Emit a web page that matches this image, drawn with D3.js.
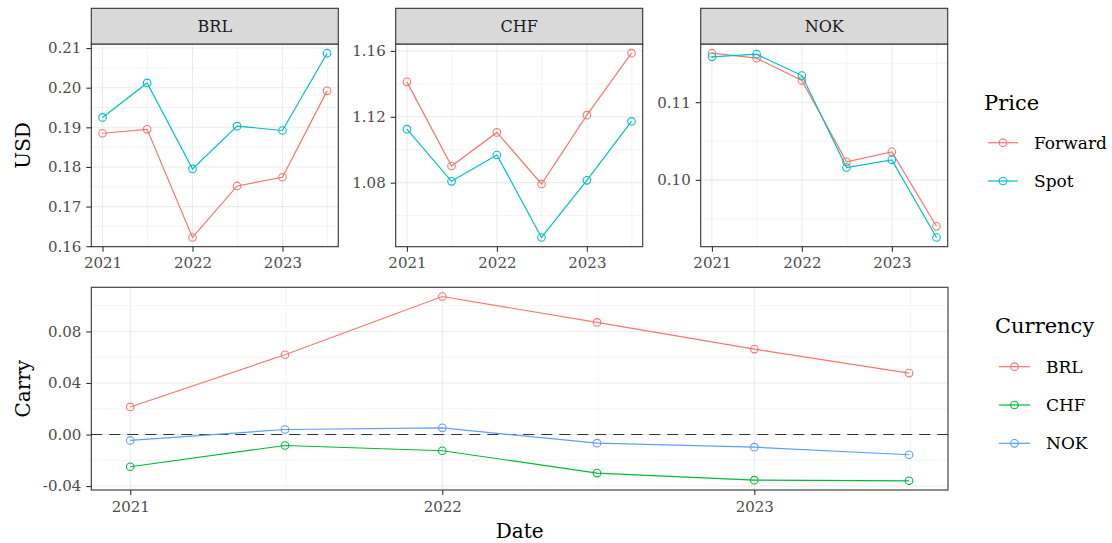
<!DOCTYPE html>
<html><head><meta charset="utf-8">
<script src="https://cdn.jsdelivr.net/npm/d3@7"></script>
<style>body{margin:0;background:#fff} svg{display:block} text{font-family:"DejaVu Serif",serif}</style>
</head><body><svg id="c" width="1112" height="543"></svg>
<script>
// ---------- data ----------
const dates = ["2021-01-01","2021-07-01","2022-01-01","2022-07-01","2023-01-01","2023-07-01"];
const yearTicks = ["2021-01-01","2022-01-01","2023-01-01"];
const yearLabels = ["2021","2022","2023"];
const currencies = ["BRL","CHF","NOK"];
const priceTypes = ["Forward","Spot"];

const brlForward = [0.1885,0.1895,0.1622,0.1752,0.1774,0.1992];
const brlSpot    = [0.1925,0.2012,0.1795,0.1903,0.1892,0.2087];
const chfForward = [1.1412,1.0901,1.1105,1.0792,1.1210,1.1586];
const chfSpot    = [1.1125,1.0808,1.0968,1.0467,1.0814,1.1172];
const nokForward = [0.11631,0.11567,0.11279,0.10232,0.10361,0.09403];
const nokSpot    = [0.11584,0.11618,0.11343,0.10159,0.10258,0.09258];

const brlCarry = [0.0214,0.0619,0.1071,0.0870,0.0663,0.0477];
const chfCarry = [-0.0250,-0.0085,-0.0126,-0.0299,-0.0354,-0.0359];
const nokCarry = [-0.0046,0.0039,0.0052,-0.0067,-0.0098,-0.0157];

const brlTicks = [0.16,0.17,0.18,0.19,0.20,0.21];
const brlTickLabels = ["0.16","0.17","0.18","0.19","0.20","0.21"];
const chfTicks = [1.08,1.12,1.16];
const chfTickLabels = ["1.08","1.12","1.16"];
const nokTicks = [0.10,0.11];
const nokTickLabels = ["0.10","0.11"];
const carryTicks = [-0.04,0,0.04,0.08];
const carryTickLabels = ["-0.04","0.00","0.04","0.08"];

const priceColors = ["#F8766D","#00BFC4"];
const currencyColors = ["#F8766D","#00BA38","#619CFF"];

// ---------- drawing ----------
const parse = d3.timeParse("%Y-%m-%d");
const xDates = dates.map(parse);
const svg = d3.select("#c");

function expand(ext, f){ const r = ext[1]-ext[0]; return [ext[0]-r*f, ext[1]+r*f]; }
function xExp(){
  const e = d3.extent(xDates).map(d=>+d);
  return expand(e,0.05).map(v=>new Date(v));
}

function panel(opt){
  const {left,top,width,height,series,colors,yTicks,yLabels,hline} = opt;
  const g = svg.append("g");
  const x = d3.scaleTime().domain(xExp()).range([left,left+width]);
  const all = series.flat();
  const y = d3.scaleLinear().domain(expand(d3.extent(all),0.05)).range([top+height,top]);
  // minor grid
  const step = yTicks[1]-yTicks[0];
  const yMinor = [];
  for(let i=-1;i<yTicks.length;i++){
    const v = yTicks[0]+step*(i+0.5);
    if(v>=y.domain()[0] && v<=y.domain()[1]) yMinor.push(v);
  }
  const xMinor = [];
  const tv = yearTicks.map(parse);
  for(let i=0;i<tv.length;i++){
    const v = new Date(+tv[i] + (i<tv.length-1 ? (tv[i+1]-tv[i])/2 : (tv[1]-tv[0])/2));
    if(v>=x.domain()[0] && v<=x.domain()[1]) xMinor.push(v);
  }
  g.selectAll(".ym").data(yMinor).join("line").attr("x1",left).attr("x2",left+width)
    .attr("y1",d=>y(d)).attr("y2",d=>y(d)).attr("stroke","#EBEBEB").attr("stroke-width",0.6);
  g.selectAll(".xm").data(xMinor).join("line").attr("y1",top).attr("y2",top+height)
    .attr("x1",d=>x(d)).attr("x2",d=>x(d)).attr("stroke","#EBEBEB").attr("stroke-width",0.6);
  g.selectAll(".yM").data(yTicks).join("line").attr("x1",left).attr("x2",left+width)
    .attr("y1",d=>y(d)).attr("y2",d=>y(d)).attr("stroke","#EBEBEB").attr("stroke-width",1.1);
  g.selectAll(".xM").data(tv).join("line").attr("y1",top).attr("y2",top+height)
    .attr("x1",d=>x(d)).attr("x2",d=>x(d)).attr("stroke","#EBEBEB").attr("stroke-width",1.1);
  if(hline!==undefined){
    g.append("line").attr("x1",left).attr("x2",left+width).attr("y1",y(hline)).attr("y2",y(hline))
      .attr("stroke","#333").attr("stroke-width",1.2).attr("stroke-dasharray","11,7");
  }
  const line = d3.line().x((d,i)=>x(xDates[i])).y(d=>y(d));
  series.forEach((s,k)=>{
    g.append("path").attr("d",line(s)).attr("fill","none").attr("stroke",colors[k]).attr("stroke-width",1.2);
    g.selectAll(null).data(s).join("circle").attr("cx",(d,i)=>x(xDates[i])).attr("cy",d=>y(d))
      .attr("r",3.8).attr("fill","none").attr("stroke",colors[k]).attr("stroke-width",1.1);
  });
  // border
  g.append("rect").attr("x",left).attr("y",top).attr("width",width).attr("height",height)
    .attr("fill","none").attr("stroke","#333").attr("stroke-width",1.1);
  // axes
  const ya = d3.axisLeft(y).tickValues(yTicks).tickFormat((d,i)=>yLabels[i]).tickSize(5).tickPadding(5);
  const yg = svg.append("g").attr("transform",`translate(${left},0)`).call(ya);
  const xa = d3.axisBottom(x).tickValues(tv).tickFormat((d,i)=>yearLabels[i]).tickSize(5).tickPadding(6);
  const xg = svg.append("g").attr("transform",`translate(0,${top+height})`).call(xa);
  [yg,xg].forEach(a=>{
    a.select(".domain").remove();
    a.selectAll(".tick line").attr("stroke","#333").attr("stroke-width",1.1);
    a.selectAll(".tick text").attr("fill","#4D4D4D").style("font-size","15px").style("font-family","DejaVu Serif");
  });
  return g;
}

const topTop = 44, topH = 202.7, stripTop = 8.3;
const lefts = [91.3,395.7,700.7], pw = 247;
const priceSeries = [[brlForward,brlSpot],[chfForward,chfSpot],[nokForward,nokSpot]];
const yT = [brlTicks,chfTicks,nokTicks], yL = [brlTickLabels,chfTickLabels,nokTickLabels];
currencies.forEach((c,i)=>{
  panel({left:lefts[i],top:topTop,width:pw,height:topH,series:priceSeries[i],colors:priceColors,yTicks:yT[i],yLabels:yL[i]});
  svg.append("rect").attr("x",lefts[i]).attr("y",stripTop).attr("width",pw).attr("height",topTop-stripTop)
    .attr("fill","#D9D9D9").attr("stroke","#333").attr("stroke-width",1.1);
  svg.append("text").attr("x",lefts[i]+pw/2).attr("y",(stripTop+topTop)/2).attr("dy","0.36em")
    .attr("text-anchor","middle").attr("fill","#1A1A1A").style("font-size","16px").text(c);
});

panel({left:91.3,top:287.3,width:856.7,height:202.7,series:[brlCarry,chfCarry,nokCarry],colors:currencyColors,
  yTicks:carryTicks,yLabels:carryTickLabels,hline:0});

// axis titles
svg.append("text").attr("transform","translate(30,145.4) rotate(-90)").attr("text-anchor","middle")
  .style("font-size","20px").attr("fill","#000").text("USD");
svg.append("text").attr("transform","translate(30,388.7) rotate(-90)").attr("text-anchor","middle")
  .style("font-size","20px").attr("fill","#000").text("Carry");
svg.append("text").attr("x",519.7).attr("y",538).attr("text-anchor","middle")
  .style("font-size","20px").attr("fill","#000").text("Date");

// legends
function legend(title,tx,ty,names,colors,kx0,kx1,ys,textX){
  svg.append("text").attr("x",tx).attr("y",ty).style("font-size","21px").attr("fill","#000").text(title);
  names.forEach((n,i)=>{
    svg.append("line").attr("x1",kx0).attr("x2",kx1).attr("y1",ys[i]).attr("y2",ys[i])
      .attr("stroke",colors[i]).attr("stroke-width",1.2);
    svg.append("circle").attr("cx",(kx0+kx1)/2).attr("cy",ys[i]).attr("r",3.8)
      .attr("fill","none").attr("stroke",colors[i]).attr("stroke-width",1.1);
    svg.append("text").attr("x",textX).attr("y",ys[i]).attr("dy","0.36em").style("font-size","17px")
      .attr("fill","#000").text(n);
  });
}
legend("Price",984,110,priceTypes,priceColors,988,1018,[142.7,181],1034);
legend("Currency",995,333.3,currencies,currencyColors,999,1030,[366.7,405,443.3],1046);
</script></body></html>
